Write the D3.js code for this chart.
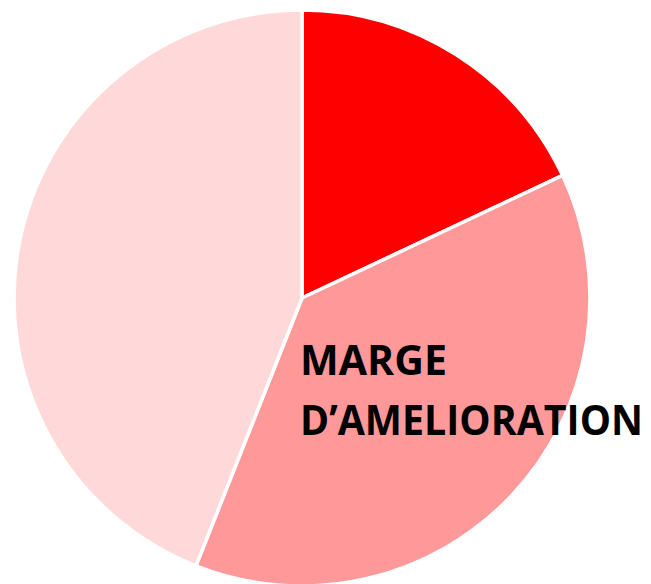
<!DOCTYPE html>
<html>
<head>
<meta charset="utf-8">
<script src="https://cdn.jsdelivr.net/npm/d3@7"></script>
<style>
  body { margin: 0; background: #fff; }
</style>
</head>
<body>
<div id="chart"></div>
<script>
// slice data, clockwise from 12 o'clock
var categories = ["A", "MARGE D\u2019AMELIORATION", "B"];
var values = [18, 38, 44];
var colors = ["#FF0000", "#FF9999", "#FFD9D9"];
var labelLines = ["MARGE", "D\u2019AMELIORATION"];

const width = 651, height = 584;
const cx = 302, cy = 298, radius = 288;

var svg = d3.select("#chart")
    .append("svg")
    .attr("width", width)
    .attr("height", height);

var g = svg.append("g")
    .attr("transform", `translate(${cx}, ${cy})`);

var pie = d3.pie().sort(null).value(d => d);
var arc = d3.arc().innerRadius(0).outerRadius(radius);

//draw slices
g.selectAll("path")
    .data(pie(values))
    .enter()
    .append("path")
    .attr("d", arc)
    .attr("fill", (d, i) => colors[i])
    .attr("stroke", "#fff")
    .attr("stroke-width", 3.5)
    .attr("stroke-linejoin", "round");

//label on the middle slice
var label = svg.append("text")
    .attr("font-family", "'Open Sans', sans-serif")
    .attr("font-weight", "bold")
    .attr("font-size", 41)
    .attr("fill", "#000");

label.append("tspan")
    .attr("x", 300).attr("y", 375)
    .attr("textLength", 147)
    .attr("lengthAdjust", "spacingAndGlyphs")
    .text(labelLines[0]);

label.append("tspan")
    .attr("x", 300).attr("y", 435)
    .attr("textLength", 343)
    .attr("lengthAdjust", "spacingAndGlyphs")
    .text(labelLines[1]);
</script>
</body>
</html>
